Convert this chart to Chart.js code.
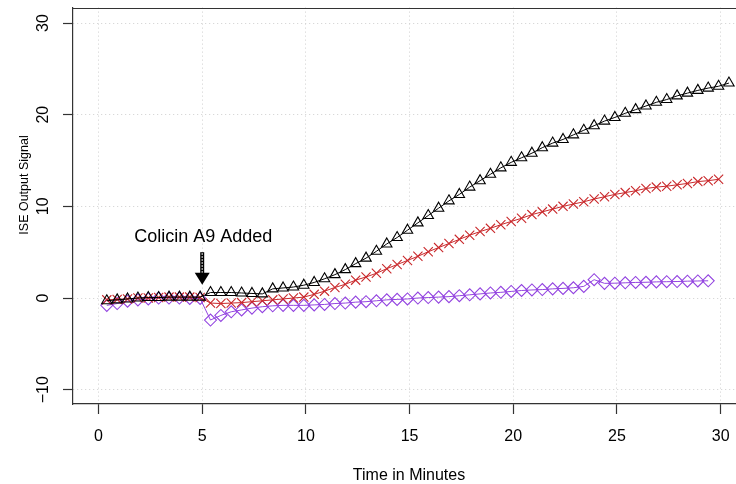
<!DOCTYPE html>
<html>
<head>
<meta charset="utf-8">
<script src="https://cdn.jsdelivr.net/npm/chart.js@4.4.1/dist/chart.umd.min.js"></script>
<style>
  html, body { margin: 0; padding: 0; background: #fff; overflow: hidden; }
  #wrap { width: 736px; height: 484px; overflow: hidden; }
</style>
</head>
<body>
<div id="wrap"><canvas id="chart" width="780" height="484"></canvas></div>
<script>
// sample times (minutes)
const times = [0.4, 0.9, 1.4, 1.9, 2.4, 2.9, 3.4, 3.9, 4.4, 4.9,
  5.4, 5.9, 6.4, 6.9, 7.4, 7.9, 8.4, 8.9, 9.4, 9.9,
  10.4, 10.9, 11.4, 11.9, 12.4, 12.9, 13.4, 13.9, 14.4, 14.9,
  15.4, 15.9, 16.4, 16.9, 17.4, 17.9, 18.4, 18.9, 19.4, 19.9,
  20.4, 20.9, 21.4, 21.9, 22.4, 22.9, 23.4, 23.9, 24.4, 24.9,
  25.4, 25.9, 26.4, 26.9, 27.4, 27.9, 28.4, 28.9, 29.4, 29.9, 30.4];

const blackSignal = [-0.3, -0.2, -0.1, 0.0, 0.05, 0.05, 0.1, 0.1, 0.1, 0.1,
  0.6, 0.6, 0.6, 0.55, 0.5, 0.45, 1.0, 1.1, 1.2, 1.4,
  1.7, 2.1, 2.55, 3.1, 3.75, 4.35, 5.1, 5.9, 6.6, 7.4,
  8.2, 9.0, 9.8, 10.6, 11.3, 12.1, 12.8, 13.5, 14.2, 14.8,
  15.3, 15.8, 16.4, 16.9, 17.3, 17.8, 18.3, 18.8, 19.3, 19.7,
  20.15, 20.55, 20.95, 21.35, 21.65, 22.05, 22.35, 22.65, 22.9, 23.1, 23.45];

const redSignal = [-0.2, -0.15, -0.1, 0.0, 0.0, 0.05, 0.1, 0.1, 0.1, 0.05,
  -0.55, -0.6, -0.55, -0.5, -0.4, -0.3, -0.2, -0.1, 0.0, 0.1,
  0.4, 0.75, 1.15, 1.5, 1.95, 2.3, 2.7, 3.2, 3.65, 4.1,
  4.55, 5.05, 5.5, 5.95, 6.4, 6.85, 7.25, 7.6, 8.0, 8.35,
  8.7, 9.1, 9.4, 9.7, 10.0, 10.25, 10.5, 10.8, 11.05, 11.3,
  11.5, 11.7, 11.95, 12.1, 12.2, 12.35, 12.5, 12.7, 12.8, 12.95];

const purpleSignal = [-0.8, -0.6, -0.35, -0.2, -0.1, 0.0, 0.0, 0.0, -0.05, -0.05,
  -2.4, -1.9, -1.5, -1.3, -1.1, -0.95, -0.85, -0.8, -0.8, -0.8,
  -0.75, -0.7, -0.6, -0.55, -0.45, -0.4, -0.3, -0.2, -0.15, -0.1,
  0.0, 0.05, 0.1, 0.15, 0.25, 0.35, 0.45, 0.55, 0.62, 0.72,
  0.82, 0.88, 0.92, 1.0, 1.05, 1.12, 1.27, 2.0, 1.6, 1.62,
  1.66, 1.7, 1.72, 1.76, 1.78, 1.8, 1.84, 1.86, 1.88];

const xTicks = [0, 5, 10, 15, 20, 25, 30];
const yTicks = [-10, 0, 10, 20, 30];

const FONT = '"Liberation Sans", Arial, Helvetica, sans-serif';

function pairs(vals) {
  return vals.map((v, i) => ({ x: times[i], y: v }));
}

// extra drawing: top box edge, rotated y labels, titles, annotation arrow
const extras = {
  id: 'extras',
  afterDraw(chart) {
    const ctx = chart.ctx;
    const area = chart.chartArea;
    const xs = chart.scales.x;
    const ys = chart.scales.y;
    ctx.save();

    // top of the box
    ctx.strokeStyle = '#333';
    ctx.lineWidth = 1.2;
    ctx.beginPath();
    ctx.moveTo(area.left, Math.round(area.top) + 0.5);
    ctx.lineTo(area.right, Math.round(area.top) + 0.5);
    ctx.stroke();

    // y tick labels, rotated like R
    ctx.fillStyle = '#000';
    ctx.font = '16px ' + FONT;
    ctx.textAlign = 'center';
    ctx.textBaseline = 'middle';
    yTicks.forEach(v => {
      ctx.save();
      ctx.translate(44, ys.getPixelForValue(v));
      ctx.rotate(-Math.PI / 2);
      ctx.fillText(String(v).replace('-', '\u2212'), 0, 0);
      ctx.restore();
    });

    // axis titles
    ctx.font = '16px ' + FONT;
    ctx.fillText('Time in Minutes', 409, 476);
    ctx.save();
    ctx.translate(25, 185);
    ctx.rotate(-Math.PI / 2);
    ctx.font = '12.5px ' + FONT;
    ctx.fillText('ISE Output Signal', 0, 0);
    ctx.restore();

    // annotation
    const ax = xs.getPixelForValue(5);
    ctx.font = '18px ' + FONT;
    ctx.fillText('Colicin A9 Added', ax + 1, ys.getPixelForValue(6.7));

    const top = ys.getPixelForValue(5.0);
    const base = ys.getPixelForValue(2.75);
    const tip = ys.getPixelForValue(1.45);
    ctx.strokeStyle = '#000';
    ctx.lineWidth = 4;
    ctx.beginPath();
    ctx.moveTo(ax, top);
    ctx.lineTo(ax, base + 1);
    ctx.stroke();
    ctx.strokeStyle = '#fff';
    ctx.lineWidth = 1.2;
    ctx.setLineDash([1.5, 1.5]);
    ctx.beginPath();
    ctx.moveTo(ax, top + 1);
    ctx.lineTo(ax, base);
    ctx.stroke();
    ctx.setLineDash([]);
    ctx.fillStyle = '#000';
    ctx.beginPath();
    ctx.moveTo(ax - 7.5, base);
    ctx.lineTo(ax + 7.5, base);
    ctx.lineTo(ax, tip);
    ctx.closePath();
    ctx.fill();

    ctx.restore();
  }
};

const gridOpts = { color: '#cfcfcf', lineWidth: 1, tickColor: '#333', tickLength: 10, tickWidth: 1.2 };
const borderOpts = { display: true, color: '#333', width: 1.2, dash: [1, 3] };

new Chart(document.getElementById('chart'), {
  type: 'line',
  data: {
    datasets: [
      {
        data: pairs(blackSignal),
        borderColor: '#000',
        borderWidth: 1,
        pointStyle: 'triangle',
        pointRadius: 6,
        pointBorderColor: '#000',
        pointBackgroundColor: 'rgba(0,0,0,0)',
        pointBorderWidth: 1.1
      },
      {
        data: pairs(redSignal),
        borderColor: '#c9282b',
        borderWidth: 1,
        pointStyle: 'crossRot',
        pointRadius: 6.5,
        pointBorderColor: '#c9282b',
        pointBackgroundColor: 'rgba(0,0,0,0)',
        pointBorderWidth: 1.1
      },
      {
        data: pairs(purpleSignal),
        borderColor: '#9344e0',
        borderWidth: 1,
        pointStyle: 'rectRot',
        pointRadius: 6,
        pointBorderColor: '#9344e0',
        pointBackgroundColor: 'rgba(0,0,0,0)',
        pointBorderWidth: 1.1
      }
    ]
  },
  options: {
    responsive: false,
    animation: false,
    devicePixelRatio: 1,
    layout: { padding: { top: 7, right: 21, left: 0, bottom: 0 } },
    elements: { line: { tension: 0 } },
    plugins: { legend: { display: false }, tooltip: { enabled: false } },
    scales: {
      x: {
        type: 'linear',
        min: -1.23,
        max: 31.85,
        afterBuildTicks: s => { s.ticks = xTicks.map(v => ({ value: v })); },
        afterFit: s => { s.height = 80; },
        grid: gridOpts,
        border: borderOpts,
        ticks: { color: '#000', font: { family: FONT, size: 16 }, padding: 13, maxRotation: 0 }
      },
      y: {
        type: 'linear',
        min: -11.56,
        max: 31.68,
        afterBuildTicks: s => { s.ticks = yTicks.map(v => ({ value: v })); },
        afterFit: s => { s.width = 73; },
        grid: gridOpts,
        border: borderOpts,
        ticks: { display: false }
      }
    }
  },
  plugins: [extras]
});
</script>
</body>
</html>
